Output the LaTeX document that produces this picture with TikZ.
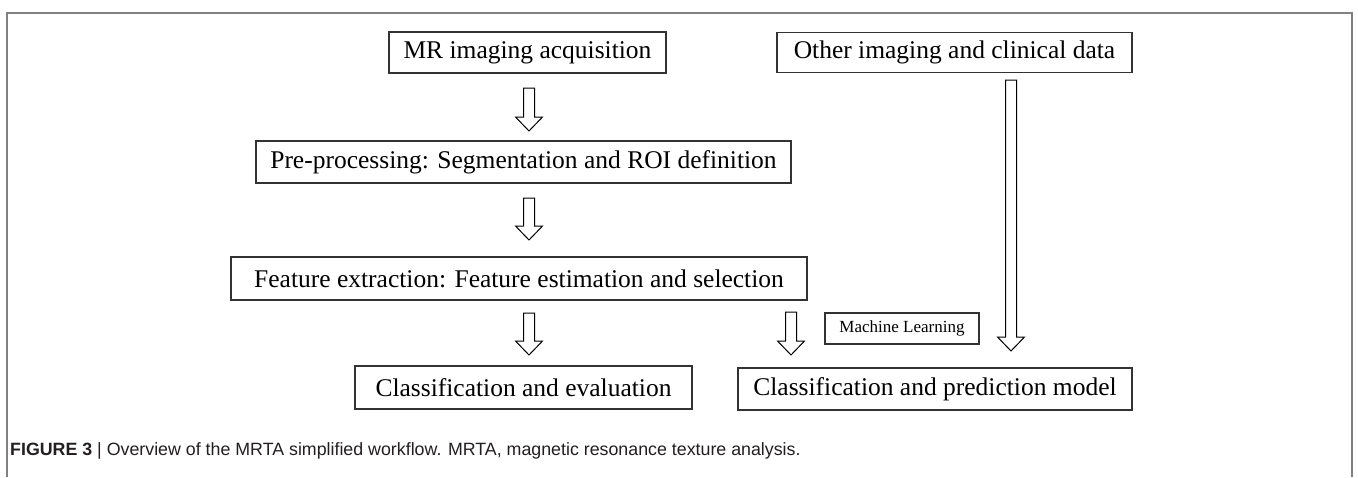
\documentclass[tikz,border=0pt]{standalone}
\usepackage{fontspec}
\setmainfont{Liberation Serif}
\newfontfamily\capfont{Liberation Sans}
\usetikzlibrary{calc}
\definecolor{framegray}{HTML}{808080}
\definecolor{boxline}{HTML}{333333}
\definecolor{captext}{HTML}{231F20}
\tikzset{
  flowbox/.style={draw=boxline, line width=1.3pt, fill=white, inner sep=0pt,
    font=\fontsize{25.5}{28}\selectfont, text=black, anchor=center},
  smallbox/.style={flowbox, font=\fontsize{17}{19}\selectfont},
  harrow/.style={draw=black, line width=1pt, fill=white, line join=miter},
}
\newcommand\hollowarrow[2]{%
  \path[harrow] let \p1=(#1), \p2=(#2) in
    (\x1-5.5pt,\y1) -- (\x1+5.5pt,\y1) -- (\x1+5.5pt,\y2+14pt)
    -- (\x1+13.5pt,\y2+14pt) -- (\x1,\y2) -- (\x1-13.5pt,\y2+14pt)
    -- (\x1-5.5pt,\y2+14pt) -- cycle;}
\begin{document}
\begin{tikzpicture}[x=1pt,y=-1pt]
\useasboundingbox (0,0) rectangle (1358,477);
\fill[white] (0,0) rectangle (1358,477);
% frame (open at bottom)
\draw[framegray, line width=1.6pt] (7,477) -- (7,13) -- (1352,13) -- (1352,477);

% boxes
\node[flowbox, minimum width=277pt, minimum height=41pt] (mr) at (527.5,52.5) {MR imaging acquisition};
\node[flowbox, minimum width=355pt, minimum height=40pt] (other) at (954.5,52.5) {Other imaging and clinical data};
\node[flowbox, minimum width=535pt, minimum height=42pt] (pre) at (523.5,162) {Pre-processing: Segmentation and ROI definition};
\node[flowbox, minimum width=576pt, minimum height=43pt] (feat) at (519,278.5) {Feature extraction: Feature estimation and selection};
\node[flowbox, minimum width=337pt, minimum height=43pt] (eval) at (523.5,387.5) {Classification and evaluation};
\node[flowbox, minimum width=394pt, minimum height=42pt] (pred) at (935,389) {Classification and prediction model};
\node[smallbox, minimum width=154pt, minimum height=31pt] (ml) at (902,328.5) {Machine Learning};

% arrow end points
\coordinate (a1s) at (529,88);   \coordinate (a1e) at (529,131);
\coordinate (a2s) at (529,198);  \coordinate (a2e) at (529,240);
\coordinate (a3s) at (529,313);  \coordinate (a3e) at (529,355);
\coordinate (a4s) at (791,312);  \coordinate (a4e) at (791,355);
\coordinate (a5s) at (1011,80);  \coordinate (a5e) at (1011,351);
\hollowarrow{a1s}{a1e}
\hollowarrow{a2s}{a2e}
\hollowarrow{a3s}{a3e}
\hollowarrow{a4s}{a4e}
\hollowarrow{a5s}{a5e}

% caption
\node[anchor=base west, inner sep=0pt, text=captext, font=\capfont\fontsize{17.8}{20}\selectfont] (cap) at (10,455)
  {\textbf{FIGURE 3} | Overview of the MRTA simplified workflow. MRTA, magnetic resonance texture analysis.};
\end{tikzpicture}
\end{document}
